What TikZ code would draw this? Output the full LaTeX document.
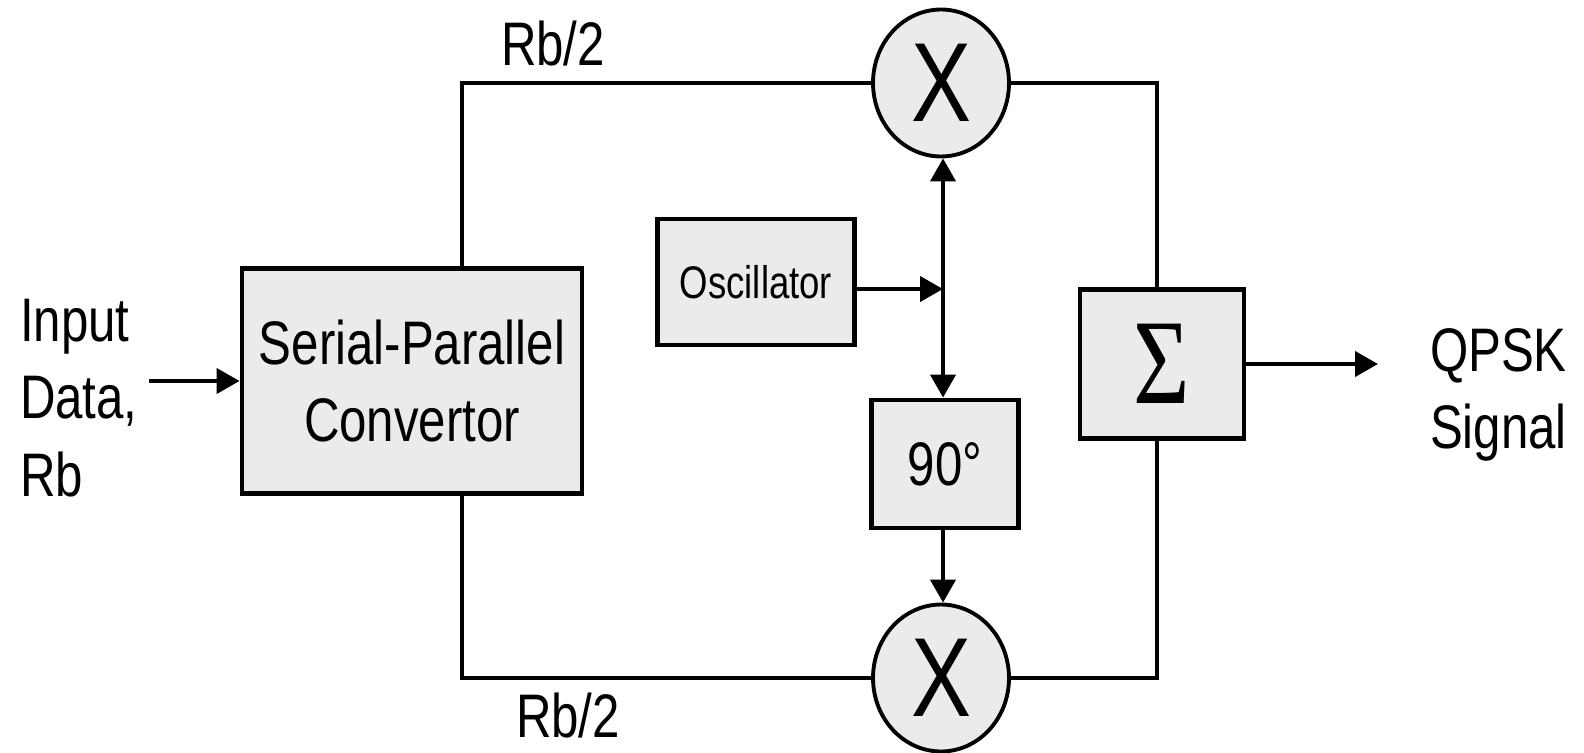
\documentclass[tikz,border=0pt]{standalone}
\usepackage{fontspec}
\setmainfont{Liberation Sans}[FakeStretch=0.8]
\newfontfamily\sigmafont{Liberation Serif}[FakeStretch=0.8]
\usetikzlibrary{arrows.meta}
\usetikzlibrary{shapes.geometric}
\definecolor{boxgray}{RGB}{235,235,235}

\begin{document}
\begin{tikzpicture}[line cap=butt,line join=miter,line width=2.3pt,>={Triangle[length=0.46cm,width=0.5cm]},x=0.02cm,y=-0.02cm,
  blk/.style={draw,line width=2.8pt,fill=boxgray,inner sep=0pt,align=center},
  mult/.style={ellipse,draw,line width=2.2pt,fill=boxgray,minimum width=2.72cm,minimum height=2.94cm,inner sep=0pt,font=\fontsize{64}{64}\selectfont},
  lbl/.style={font=\fontsize{35}{44}\selectfont,inner sep=0pt}]
\useasboundingbox (0,0) rectangle (1584,753);
% blocks
\node[blk,minimum width=6.8cm,minimum height=4.5cm,lbl] (sp) at (412,381) {Serial-Parallel\\Convertor};
\node[blk,minimum width=3.95cm,minimum height=2.52cm,font=\fontsize{26}{30}\selectfont] (osc) at (756,282) {Oscillator};
\node[blk,minimum width=2.95cm,minimum height=2.56cm,lbl] (ph) at (945,464) {90°};
\node[blk,minimum width=3.28cm,minimum height=2.98cm,font=\sigmafont\fontsize{69}{69}\selectfont] (sum) at (1162,364) {Σ};
\node[mult] (m1) at (941,83) {X};
\node[mult] (m2) at (941,678) {X};
% labels
\node[lbl,anchor=west,align=left] (inp) at (18,398) {Input\\Data,\\Rb};
\node[lbl,anchor=west,align=left] (out) at (1428,395) {QPSK\\Signal};
\node[lbl] (rbtop) at (553,44) {Rb/2};
\node[lbl] (rbbot) at (568,716) {Rb/2};
\coordinate (in) at (149,381);
\coordinate (qp) at (1378,364);
\coordinate (j) at (943,289);
% wires
\draw[->] (in) -- (sp.west |- in);
\draw ([xshift=1cm]sp.north) |- (m1.west);
\draw ([xshift=1cm]sp.south) |- (m2.west);
\draw (m1.east) -| ([xshift=-0.1cm]sum.north);
\draw (m2.east) -| ([xshift=-0.1cm]sum.south);
\draw[->] (sum.east |- qp) -- (qp);
\draw[->] (j) -- (j |- m1.south);
\draw[->] (j) -- (j |- ph.north);
\draw[->] (osc.east |- j) -- (j);
\draw[->] (ph.south -| j) -- (j |- m2.north);
\end{tikzpicture}
\end{document}
